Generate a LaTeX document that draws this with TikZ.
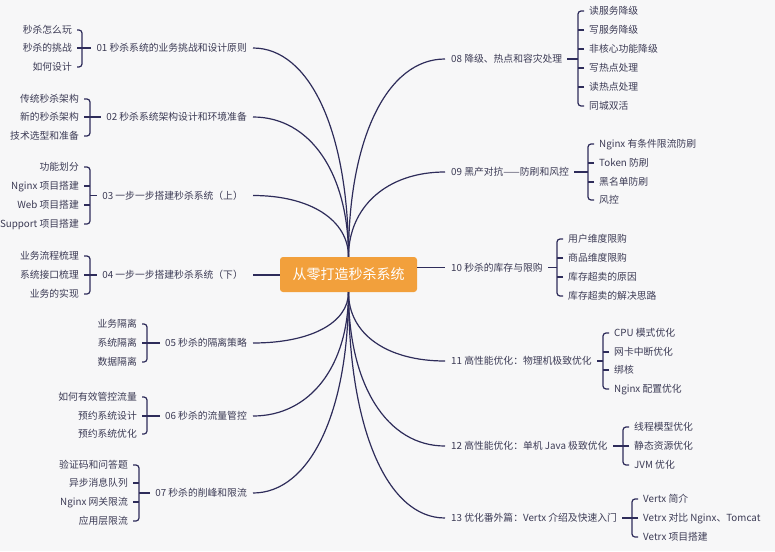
\documentclass[tikz,border=0pt]{standalone}
\usepackage{fontspec}
\setmainfont{Noto Sans CJK SC}
\usepackage{tikz}
\usetikzlibrary{shapes}
\usetikzlibrary{positioning}

\definecolor{linecol}{HTML}{2E2C5A}
\definecolor{textcol}{HTML}{3C3B55}
\definecolor{rootcol}{HTML}{F2A03C}
\definecolor{bgcol}{HTML}{F7F7F8}

\begin{document}
\begin{tikzpicture}[x=1pt,y=-1pt]
\tikzstyle{root}=[rectangle,rounded corners=3pt,fill=rootcol,text=white,
font=\fontsize{14}{16}\selectfont,minimum width=137pt,minimum height=35pt,inner sep=0pt]
\tikzstyle{chapter}=[text=textcol,font=\fontsize{9.8}{12}\selectfont,
inner sep=0pt,text height=8.4pt,text depth=1.4pt]
\tikzstyle{topic}=[text=textcol,font=\fontsize{9.8}{12}\selectfont,
inner sep=0pt,text height=8.4pt,text depth=1.4pt]
\tikzstyle{branch}=[draw=linecol,line width=1.2pt]
\tikzstyle{brace}=[draw=linecol,line width=1.2pt,rounded corners=3pt]

\fill[bgcol] (0,0) rectangle (775,551);
\useasboundingbox (0,0) rectangle (775,551);

\node[root] (root) at (348.5,274.5) {从零打造秒杀系统};

% left chapters
\node[chapter,anchor=east] (ch01) at (247,48) {01 秒杀系统的业务挑战和设计原则};
\node[chapter,anchor=east] (ch02) at (247,117) {02 秒杀系统架构设计和环境准备};
\node[chapter,anchor=east] (ch03) at (243,195.5) {03 一步一步搭建秒杀系统（上）};
\node[chapter,anchor=east] (ch04) at (243,275) {04 一步一步搭建秒杀系统（下）};
\node[chapter,anchor=east] (ch05) at (247,343) {05 秒杀的隔离策略};
\node[chapter,anchor=east] (ch06) at (247,416) {06 秒杀的流量管控};
\node[chapter,anchor=east] (ch07) at (247,493) {07 秒杀的削峰和限流};

% right chapters
\node[chapter,anchor=west] (ch08) at (451,59) {08 降级、热点和容灾处理};
\node[chapter,anchor=west] (ch09) at (451,172) {09 黑产对抗——防刷和风控};
\node[chapter,anchor=west] (ch10) at (451,267.5) {10 秒杀的库存与限购};
\node[chapter,anchor=west] (ch11) at (451,361) {11 高性能优化：物理机极致优化};
\node[chapter,anchor=west] (ch12) at (451,446) {12 高性能优化：单机 Java 极致优化};
\node[chapter,anchor=west] (ch13) at (451,518) {13 优化番外篇：Vertx 介绍及快速入门};

% branches from the root
\draw[branch] (root.north) .. controls +(0,-125) and +(57,0) .. ([xshift=6pt]ch01.east);
\draw[branch] (root.north) .. controls +(0,-84) and +(57,0) .. ([xshift=6pt]ch02.east);
\draw[branch] (root.north) .. controls +(0,-37) and +(57,0) .. ([xshift=10pt]ch03.east);
\draw[branch] (root.west |- ch04.east) -- ([xshift=10pt]ch04.east);
\draw[branch] (root.south) .. controls +(0,31) and +(57,0) .. ([xshift=6pt]ch05.east);
\draw[branch] (root.south) .. controls +(0,74) and +(57,0) .. ([xshift=6pt]ch06.east);
\draw[branch] (root.south) .. controls +(0,120) and +(57,0) .. ([xshift=6pt]ch07.east);
\draw[branch] (root.north) .. controls +(0,-118) and +(-58,0) .. ([xshift=-6pt]ch08.west);
\draw[branch] (root.north) .. controls +(0,-50) and +(-58,0) .. ([xshift=-6pt]ch09.west);
\draw[branch] (root.east |- ch10.west) -- ([xshift=-6pt]ch10.west);
\draw[branch] (root.south) .. controls +(0,42) and +(-58,0) .. ([xshift=-6pt]ch11.west);
\draw[branch] (root.south) .. controls +(0,93) and +(-58,0) .. ([xshift=-6pt]ch12.west);
\draw[branch] (root.south) .. controls +(0,136) and +(-58,0) .. ([xshift=-6pt]ch13.west);

% 01
\node[topic,anchor=east] (t01a) at (72,30) {秒杀怎么玩};
\node[topic,anchor=east] (t01b) at (72,48) {秒杀的挑战};
\node[topic,anchor=east] (t01c) at (72,67) {如何设计};
\coordinate (b01) at (82,48);
\draw[brace] ([xshift=5pt]t01a.east) -| (b01) |- ([xshift=5pt]t01c.east);
\draw[brace] ([xshift=5pt]t01b.east) -- (b01 |- t01b.east);
\draw[brace] (b01) -- ([xshift=-5pt]ch01.west);

% 02
\node[topic,anchor=east] (t02a) at (79,99) {传统秒杀架构};
\node[topic,anchor=east] (t02b) at (79,117) {新的秒杀架构};
\node[topic,anchor=east] (t02c) at (79,136) {技术选型和准备};
\coordinate (b02) at (90,117);
\draw[brace] ([xshift=5pt]t02a.east) -| (b02) |- ([xshift=5pt]t02c.east);
\draw[brace] ([xshift=5pt]t02b.east) -- (b02 |- t02b.east);
\draw[brace] (b02) -- ([xshift=-5pt]ch02.west);

% 03
\node[topic,anchor=east] (t03a) at (79,167) {功能划分};
\node[topic,anchor=east] (t03b) at (79,186) {Nginx 项目搭建};
\node[topic,anchor=east] (t03c) at (79,205) {Web 项目搭建};
\node[topic,anchor=east] (t03d) at (79,224) {Support 项目搭建};
\coordinate (b03) at (90,195.5);
\draw[brace] ([xshift=5pt]t03a.east) -| (b03) |- ([xshift=5pt]t03d.east);
\draw[brace] ([xshift=5pt]t03b.east) -- (b03 |- t03b.east);
\draw[brace] ([xshift=5pt]t03c.east) -- (b03 |- t03c.east);
\draw[brace] (b03) -- ([xshift=-5pt]ch03.west);

% 04
\node[topic,anchor=east] (t04a) at (79,256) {业务流程梳理};
\node[topic,anchor=east] (t04b) at (79,275) {系统接口梳理};
\node[topic,anchor=east] (t04c) at (79,294) {业务的实现};
\coordinate (b04) at (90,275);
\draw[brace] ([xshift=5pt]t04a.east) -| (b04) |- ([xshift=5pt]t04c.east);
\draw[brace] ([xshift=5pt]t04b.east) -- (b04 |- t04b.east);
\draw[brace] (b04) -- ([xshift=-5pt]ch04.west);

% 05
\node[topic,anchor=east] (t05a) at (137,324) {业务隔离};
\node[topic,anchor=east] (t05b) at (137,343) {系统隔离};
\node[topic,anchor=east] (t05c) at (137,362) {数据隔离};
\coordinate (b05) at (147,343);
\draw[brace] ([xshift=5pt]t05a.east) -| (b05) |- ([xshift=5pt]t05c.east);
\draw[brace] ([xshift=5pt]t05b.east) -- (b05 |- t05b.east);
\draw[brace] (b05) -- ([xshift=-5pt]ch05.west);

% 06
\node[topic,anchor=east] (t06a) at (137,397) {如何有效管控流量};
\node[topic,anchor=east] (t06b) at (137,416) {预约系统设计};
\node[topic,anchor=east] (t06c) at (137,434) {预约系统优化};
\coordinate (b06) at (147,416);
\draw[brace] ([xshift=5pt]t06a.east) -| (b06) |- ([xshift=5pt]t06c.east);
\draw[brace] ([xshift=5pt]t06b.east) -- (b06 |- t06b.east);
\draw[brace] (b06) -- ([xshift=-5pt]ch06.west);

% 07
\node[topic,anchor=east] (t07a) at (128,465) {验证码和问答题};
\node[topic,anchor=east] (t07b) at (128,483) {异步消息队列};
\node[topic,anchor=east] (t07c) at (128,502) {Nginx 网关限流};
\node[topic,anchor=east] (t07d) at (128,521) {应用层限流};
\coordinate (b07) at (139,493);
\draw[brace] ([xshift=5pt]t07a.east) -| (b07) |- ([xshift=5pt]t07d.east);
\draw[brace] ([xshift=5pt]t07b.east) -- (b07 |- t07b.east);
\draw[brace] ([xshift=5pt]t07c.east) -- (b07 |- t07c.east);
\draw[brace] (b07) -- ([xshift=-5pt]ch07.west);

% 08
\node[topic,anchor=west] (t08a) at (589,11) {读服务降级};
\node[topic,anchor=west] (t08b) at (589,30) {写服务降级};
\node[topic,anchor=west] (t08c) at (589,49) {非核心功能降级};
\node[topic,anchor=west] (t08d) at (589,68) {写热点处理};
\node[topic,anchor=west] (t08e) at (589,87) {读热点处理};
\node[topic,anchor=west] (t08f) at (589,106) {同城双活};
\coordinate (b08) at (578,59);
\draw[brace] ([xshift=-5pt]t08a.west) -| (b08) |- ([xshift=-5pt]t08f.west);
\draw[brace] ([xshift=-5pt]t08b.west) -- (b08 |- t08b.west);
\draw[brace] ([xshift=-5pt]t08c.west) -- (b08 |- t08c.west);
\draw[brace] ([xshift=-5pt]t08d.west) -- (b08 |- t08d.west);
\draw[brace] ([xshift=-5pt]t08e.west) -- (b08 |- t08e.west);
\draw[brace] (b08) -- ([xshift=5pt]ch08.east);

% 09
\node[topic,anchor=west] (t09a) at (599,144) {Nginx 有条件限流防刷};
\node[topic,anchor=west] (t09b) at (599,163) {Token 防刷};
\node[topic,anchor=west] (t09c) at (599,182) {黑名单防刷};
\node[topic,anchor=west] (t09d) at (599,200) {风控};
\coordinate (b09) at (588,172);
\draw[brace] ([xshift=-5pt]t09a.west) -| (b09) |- ([xshift=-5pt]t09d.west);
\draw[brace] ([xshift=-5pt]t09b.west) -- (b09 |- t09b.west);
\draw[brace] ([xshift=-5pt]t09c.west) -- (b09 |- t09c.west);
\draw[brace] (b09) -- ([xshift=5pt]ch09.east);

% 10
\node[topic,anchor=west] (t10a) at (568,239) {用户维度限购};
\node[topic,anchor=west] (t10b) at (568,258) {商品维度限购};
\node[topic,anchor=west] (t10c) at (568,277) {库存超卖的原因};
\node[topic,anchor=west] (t10d) at (568,296) {库存超卖的解决思路};
\coordinate (b10) at (557,267.5);
\draw[brace] ([xshift=-5pt]t10a.west) -| (b10) |- ([xshift=-5pt]t10d.west);
\draw[brace] ([xshift=-5pt]t10b.west) -- (b10 |- t10b.west);
\draw[brace] ([xshift=-5pt]t10c.west) -- (b10 |- t10c.west);
\draw[brace] (b10) -- ([xshift=5pt]ch10.east);

% 11
\node[topic,anchor=west] (t11a) at (614,333) {CPU 模式优化};
\node[topic,anchor=west] (t11b) at (614,352) {网卡中断优化};
\node[topic,anchor=west] (t11c) at (614,370) {绑核};
\node[topic,anchor=west] (t11d) at (614,389) {Nginx 配置优化};
\coordinate (b11) at (603,361);
\draw[brace] ([xshift=-5pt]t11a.west) -| (b11) |- ([xshift=-5pt]t11d.west);
\draw[brace] ([xshift=-5pt]t11b.west) -- (b11 |- t11b.west);
\draw[brace] ([xshift=-5pt]t11c.west) -- (b11 |- t11c.west);
\draw[brace] (b11) -- ([xshift=5pt]ch11.east);

% 12
\node[topic,anchor=west] (t12a) at (634,427) {线程模型优化};
\node[topic,anchor=west] (t12b) at (634,446) {静态资源优化};
\node[topic,anchor=west] (t12c) at (634,465) {JVM 优化};
\coordinate (b12) at (623,446);
\draw[brace] ([xshift=-5pt]t12a.west) -| (b12) |- ([xshift=-5pt]t12c.west);
\draw[brace] ([xshift=-5pt]t12b.west) -- (b12 |- t12b.west);
\draw[brace] (b12) -- ([xshift=5pt]ch12.east);

% 13
\node[topic,anchor=west] (t13a) at (643,499) {Vertx 简介};
\node[topic,anchor=west] (t13b) at (643,518) {Vetrx 对比 Nginx、Tomcat};
\node[topic,anchor=west] (t13c) at (643,537) {Vetrx 项目搭建};
\coordinate (b13) at (632,518);
\draw[brace] ([xshift=-5pt]t13a.west) -| (b13) |- ([xshift=-5pt]t13c.west);
\draw[brace] ([xshift=-5pt]t13b.west) -- (b13 |- t13b.west);
\draw[brace] (b13) -- ([xshift=5pt]ch13.east);
\end{tikzpicture}
\end{document}
